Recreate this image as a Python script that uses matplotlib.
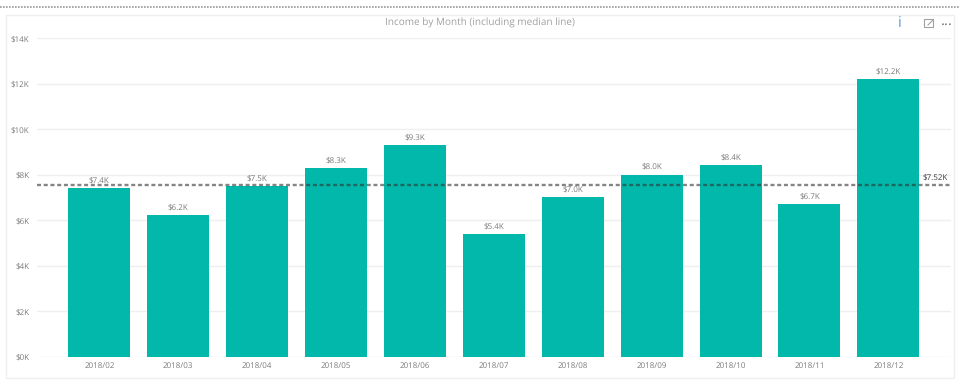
import matplotlib
matplotlib.use('Agg')
import matplotlib.pyplot as plt
from matplotlib.patches import Rectangle
from matplotlib.lines import Line2D

months = ['2018/02', '2018/03', '2018/04', '2018/05', '2018/06', '2018/07',
          '2018/08', '2018/09', '2018/10', '2018/11', '2018/12']
income = [7.4, 6.2, 7.5, 8.3, 9.3, 5.4, 7.0, 8.0, 8.4, 6.7, 12.2]
median = 7.52
yticks = [0, 2, 4, 6, 8, 10, 12, 14]

W, H = 960, 383
GREY = '#7a7a7a'
plt.rcParams['font.family'] = ['Open Sans', 'DejaVu Sans']
plt.rcParams['text.hinting'] = 'no_hinting'
plt.rcParams['text.hinting_factor'] = 1

fig = plt.figure(figsize=(W / 100, H / 100), dpi=100)


def px(x, y):
    # pixel position from the top left -> figure fraction
    return x / W, 1 - y / H


# plot area
ax = fig.add_axes([37 / W, 1 - 356.5 / H, 914 / W, 318.5 / H])
ax.set_xlim(-0.79, 10.794)
ax.set_ylim(0, 14)
ax.set_facecolor('none')

ax.bar(range(len(months)), income, width=0.787, color='#01B8AA', zorder=2)
ax.axhline(median, color='#333333', alpha=0.6, lw=1.7, ls=(0, (1.7, 1.15)), zorder=3)

for i, v in enumerate(income):
    ax.annotate(f'${v:.1f}K', (i, v), xytext=(0, 2.6), textcoords='offset points',
                ha='center', va='bottom', fontsize=5.7, color=GREY, zorder=4)
ax.annotate(f'${median:.2f}K', (10.794, median), xytext=(-2.5, 2.6), textcoords='offset points',
            ha='right', va='bottom', fontsize=5.7, color='#3c3c3c', zorder=4)

ax.set_xticks(range(len(months)))
ax.set_xticklabels(months)
ax.set_yticks(yticks)
ax.set_yticklabels([f'${t}K' for t in yticks])
ax.tick_params(axis='both', length=0, labelsize=5.8, labelcolor=GREY)
ax.tick_params(axis='x', pad=3.5)
ax.tick_params(axis='y', pad=5.5)
ax.grid(axis='y', color='#efefef', lw=1, zorder=0)
ax.set_axisbelow(True)
for s in ax.spines.values():
    s.set_visible(False)

# panel border and the dotted line on top of it
fig.add_artist(Rectangle(px(6, 378), 948 / W, 363 / H, transform=fig.transFigure,
                         fc='none', ec='#efefef', lw=1))
x0, y0 = px(0, 6.5)
x1, _ = px(960, 6.5)
fig.add_artist(Line2D([x0, x1], [y0, y0], color='#999999', lw=1.2, ls=(0, (1, 0.8))))

tx, ty = px(480, 22.5)
fig.text(tx, ty, 'Income by Month (including median line)', ha='center', va='center',
         fontsize=7, color='#a0a0a0')

# header icons
tx, ty = px(900, 23)
fig.text(tx, ty, 'i', ha='center', va='center', fontsize=10.5, color='#5f9bd0')
fig.add_artist(Rectangle(px(924, 27), 9 / W, 7.5 / H, transform=fig.transFigure,
                         fc='none', ec='#a0a0a0', lw=0.8))
x0, y0 = px(928, 25)
x1, y1 = px(933, 20)
fig.add_artist(Line2D([x0, x1], [y0, y1], color='#a0a0a0', lw=0.8))
tx, ty = px(947, 24.5)
fig.text(tx, ty, '\u00b7\u00b7\u00b7', ha='center', va='center', fontsize=10.5, color='#777777')

fig.savefig('out.png', dpi=100, facecolor='white')
